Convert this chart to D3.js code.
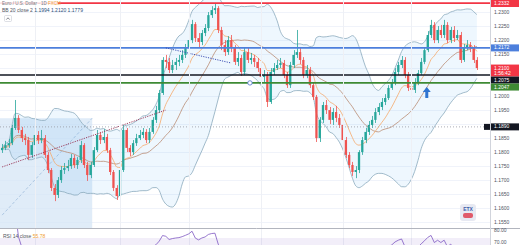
<!DOCTYPE html>
<html>
<head>
<meta charset="utf-8">
<script src="https://cdn.jsdelivr.net/npm/d3@7"></script>
<style>
  body { margin: 0; background: #fff; }
  svg { display: block; font-family: "Liberation Sans", Arial, sans-serif; }
</style>
</head>
<body>
<div id="chart"></div>
<script>
// OHLC (daily candles)
const open = [1.1807,1.1815,1.1825,1.1832,1.1886,1.1922,1.1879,1.1850,1.1843,1.1790,
  1.1825,1.1861,1.1843,1.1850,1.1790,1.1736,1.1672,1.1647,1.1700,1.1736,
  1.1743,1.1750,1.1779,1.1754,1.1772,1.1825,1.1754,1.1718,1.1754,1.1807,
  1.1861,1.1843,1.1854,1.1807,1.1729,1.1672,1.1643,1.1736,1.1879,1.1815,
  1.1800,1.1832,1.1850,1.1861,1.1872,1.1843,1.1872,1.1915,1.1950,1.2011,
  1.2129,1.2122,1.2093,1.2111,1.2122,1.2129,1.2147,1.2172,1.2200,1.2257,
  1.2207,1.2193,1.2225,1.2243,1.2289,1.2307,1.2314,1.2236,1.2182,1.2157,
  1.2200,1.2172,1.2122,1.2136,1.2086,1.2157,1.2129,1.2136,1.2122,1.2100,
  1.2068,1.2075,1.1979,1.2086,1.2100,1.2111,1.2118,1.2075,1.2039,1.2111,
  1.2147,1.2157,1.2129,1.2075,1.2093,1.2039,1.1997,1.1850,1.1915,1.1968,
  1.1950,1.1915,1.1943,1.1922,1.1897,1.1843,1.1790,1.1754,1.1729,1.1736,
  1.1800,1.1843,1.1872,1.1897,1.1915,1.1943,1.1961,1.1979,1.1993,1.2029,
  1.2047,1.2086,1.2111,1.2129,1.2075,1.2029,1.2022,1.2050,1.2082,1.2122,
  1.2164,1.2218,1.2254,1.2200,1.2236,1.2218,1.2254,1.2200,1.2236,1.2207,
  1.2218,1.2129,1.2172,1.2182,1.2172,1.2129];
const high = [1.1829,1.1840,1.1847,1.1897,1.1986,1.1932,1.1890,1.1865,1.1854,1.1836,
  1.1886,1.1875,1.1879,1.1861,1.1800,1.1743,1.1686,1.1711,1.1750,1.1761,
  1.1772,1.1793,1.1790,1.1782,1.1840,1.1832,1.1765,1.1765,1.1818,1.1879,
  1.1872,1.1882,1.1865,1.1815,1.1736,1.1682,1.1747,1.1897,1.1886,1.1825,
  1.1843,1.1865,1.1879,1.1886,1.1882,1.1886,1.1925,1.1965,1.2022,1.2139,
  1.2147,1.2136,1.2129,1.2136,1.2147,1.2164,1.2186,1.2214,1.2272,1.2264,
  1.2225,1.2236,1.2257,1.2300,1.2321,1.2329,1.2321,1.2247,1.2200,1.2214,
  1.2218,1.2182,1.2157,1.2147,1.2172,1.2172,1.2154,1.2147,1.2136,1.2114,
  1.2093,1.2086,1.2100,1.2118,1.2129,1.2136,1.2129,1.2086,1.2122,1.2164,
  1.2236,1.2172,1.2139,1.2111,1.2104,1.2050,1.2004,1.1925,1.1979,1.1986,
  1.1961,1.1957,1.1965,1.1936,1.1907,1.1854,1.1800,1.1765,1.1750,1.1807,
  1.1854,1.1886,1.1911,1.1929,1.1957,1.1975,1.1993,1.2007,1.2039,1.2061,
  1.2100,1.2122,1.2143,1.2139,1.2086,1.2043,1.2064,1.2093,1.2136,1.2175,
  1.2232,1.2272,1.2264,1.2250,1.2254,1.2272,1.2264,1.2247,1.2250,1.2236,
  1.2229,1.2186,1.2200,1.2193,1.2182,1.2139];
const low = [1.1797,1.1807,1.1815,1.1825,1.1879,1.1868,1.1836,1.1825,1.1772,1.1779,
  1.1818,1.1829,1.1832,1.1779,1.1725,1.1661,1.1625,1.1636,1.1690,1.1722,
  1.1732,1.1740,1.1743,1.1740,1.1761,1.1743,1.1697,1.1707,1.1747,1.1800,
  1.1829,1.1832,1.1797,1.1718,1.1661,1.1629,1.1636,1.1729,1.1800,1.1786,
  1.1790,1.1822,1.1843,1.1850,1.1832,1.1832,1.1865,1.1904,1.1940,1.2004,
  1.2100,1.2082,1.2082,1.2093,1.2107,1.2118,1.2136,1.2157,1.2189,1.2193,
  1.2175,1.2182,1.2214,1.2232,1.2279,1.2293,1.2225,1.2164,1.2143,1.2147,
  1.2157,1.2111,1.2107,1.2072,1.2075,1.2118,1.2114,1.2104,1.2086,1.2057,
  1.2050,1.1961,1.1972,1.2075,1.2093,1.2100,1.2064,1.2029,1.2029,1.2100,
  1.2136,1.2114,1.2064,1.2064,1.2029,1.1986,1.1836,1.1836,1.1904,1.1936,
  1.1900,1.1897,1.1907,1.1886,1.1832,1.1779,1.1743,1.1715,1.1707,1.1725,
  1.1790,1.1832,1.1861,1.1886,1.1904,1.1932,1.1950,1.1968,1.1986,1.2022,
  1.2039,1.2075,1.2100,1.2064,1.2018,1.2004,1.2011,1.2039,1.2075,1.2114,
  1.2157,1.2207,1.2189,1.2189,1.2207,1.2207,1.2189,1.2189,1.2193,1.2200,
  1.2118,1.2122,1.2164,1.2157,1.2118,1.2093];
const close = [1.1815,1.1825,1.1832,1.1886,1.1922,1.1879,1.1850,1.1843,1.1790,1.1825,
  1.1861,1.1843,1.1850,1.1790,1.1736,1.1672,1.1647,1.1700,1.1736,1.1743,
  1.1750,1.1779,1.1754,1.1772,1.1825,1.1754,1.1718,1.1754,1.1807,1.1861,
  1.1843,1.1854,1.1807,1.1729,1.1672,1.1643,1.1736,1.1879,1.1815,1.1800,
  1.1832,1.1850,1.1861,1.1872,1.1843,1.1872,1.1915,1.1950,1.2011,1.2129,
  1.2122,1.2093,1.2111,1.2122,1.2129,1.2147,1.2172,1.2200,1.2257,1.2207,
  1.2193,1.2225,1.2243,1.2289,1.2307,1.2314,1.2236,1.2182,1.2157,1.2200,
  1.2172,1.2122,1.2136,1.2086,1.2157,1.2129,1.2136,1.2122,1.2100,1.2068,
  1.2075,1.1979,1.2086,1.2100,1.2111,1.2118,1.2075,1.2039,1.2111,1.2147,
  1.2157,1.2129,1.2075,1.2093,1.2039,1.1997,1.1850,1.1915,1.1968,1.1950,
  1.1915,1.1943,1.1922,1.1897,1.1843,1.1790,1.1754,1.1729,1.1736,1.1800,
  1.1843,1.1872,1.1897,1.1915,1.1943,1.1961,1.1979,1.1993,1.2029,1.2047,
  1.2086,1.2111,1.2129,1.2075,1.2029,1.2022,1.2050,1.2082,1.2122,1.2164,
  1.2218,1.2254,1.2200,1.2236,1.2218,1.2254,1.2200,1.2236,1.2207,1.2218,
  1.2129,1.2172,1.2182,1.2172,1.2129,1.2100];

// price axis ticks
const priceTicks = [1.2300,1.2250,1.2200,1.2150,1.2100,1.2050,1.2000,1.1950,1.1900,
  1.1850,1.1800,1.1750,1.1700,1.1650,1.1600,1.1550];
// horizontal levels drawn on the chart
const levelPrices = [1.2332, 1.2172, 1.2075, 1.2047];
const levelColors = ["#f23645", "#4d7fdc", "#131722", "#3e8a34"];
const dottedLevel = 1.1890;
// drawings: [candle index, price]
const trendRed = [[0, 1.1747], [50, 1.1950]];
const trendBlue = [[50, 1.2172], [70, 1.2118]];
const boxDiag = [[0, 1.1575], [27.5, 1.1921]];
const boxRange = [[-1, 27.5], [1.1921, 1.1529]];
const markerPt = [75.7, 1.2047];
const arrowPt = [129.7, 1.2032];
const vGridIdx = [10, 36, 57, 79, 104, 125];

const W = 520, H = 245, plotR = 490, priceB = 228;
const n = close.length;

const svg = d3.select("#chart").append("svg")
  .attr("width", W).attr("height", H);

const x = d3.scaleBand().domain(d3.range(n)).range([0, 479]).padding(0.3);
const cx = i => x(i) + x.bandwidth() / 2;
const xi = d3.scaleLinear().domain([0, n - 1]).range([cx(0), cx(n - 1)]);
const y = d3.scaleLinear().domain([1.1529, 1.2343]).range([priceB, 0]);

// indicators
const basis = [], upper = [], lower = [];
for (let i = 0; i < n; i++) {
  const w = close.slice(Math.max(0, i - 19), i + 1);
  const m = d3.mean(w);
  const sd = Math.sqrt(d3.mean(w, v => (v - m) ** 2));
  basis.push(m); upper.push(m + 2 * sd); lower.push(m - 2 * sd);
}
const ema = [];
close.forEach((c, i) => ema.push(i ? ema[i - 1] + (c - ema[i - 1]) * 2 / 11 : c));
const rsi = [];
let ag = 0, al = 0;
for (let i = 1; i < n; i++) {
  const d = close[i] - close[i - 1];
  const g = Math.max(d, 0), l = Math.max(-d, 0);
  if (i <= 14) { ag += g / 14; al += l / 14; }
  else { ag = (ag * 13 + g) / 14; al = (al * 13 + l) / 14; }
  rsi.push([i, al === 0 ? 100 : 100 - 100 / (1 + ag / al)]);
}

// clips
svg.append("clipPath").attr("id", "pc").append("rect")
  .attr("x", 0).attr("y", 0).attr("width", plotR).attr("height", priceB);
svg.append("clipPath").attr("id", "rc").append("rect")
  .attr("x", 0).attr("y", priceB + 1).attr("width", plotR).attr("height", H - priceB);

const plot = svg.append("g").attr("clip-path", "url(#pc)");

// grid
plot.selectAll(".hg").data(priceTicks).join("line")
  .attr("x1", 0).attr("x2", plotR)
  .attr("y1", d => Math.round(y(d)) + 0.5).attr("y2", d => Math.round(y(d)) + 0.5)
  .attr("stroke", "#f0f3fa");
svg.selectAll(".vg").data(vGridIdx).join("line")
  .attr("x1", d => Math.round(cx(d)) + 0.5).attr("x2", d => Math.round(cx(d)) + 0.5)
  .attr("y1", 0).attr("y2", H)
  .attr("stroke", "#eef0f5");

// blue range box
plot.append("rect")
  .attr("x", xi(boxRange[0][0])).attr("width", xi(boxRange[0][1]) - xi(boxRange[0][0]))
  .attr("y", y(boxRange[1][0])).attr("height", y(boxRange[1][1]) - y(boxRange[1][0]))
  .attr("fill", "#d6e6f5").attr("fill-opacity", 0.75);
plot.append("line")
  .attr("x1", xi(boxDiag[0][0])).attr("y1", y(boxDiag[0][1]))
  .attr("x2", xi(boxDiag[1][0])).attr("y2", y(boxDiag[1][1]))
  .attr("stroke", "#9fbddc").attr("stroke-width", 0.8).attr("stroke-dasharray", "3,2");

// Bollinger bands
plot.append("path")
  .attr("d", d3.area().x((d, i) => cx(i)).y0((d, i) => y(lower[i])).y1(d => y(d))
    .curve(d3.curveMonotoneX)(upper))
  .attr("fill", "#2196f3").attr("fill-opacity", 0.08);
const line = d3.line().x((d, i) => cx(i)).y(d => y(d)).curve(d3.curveMonotoneX);
[upper, lower].forEach(s => plot.append("path").attr("d", line(s))
  .attr("fill", "none").attr("stroke", "#8aa9bd").attr("stroke-width", 0.8));
plot.append("path").attr("d", line(basis))
  .attr("fill", "none").attr("stroke", "#b98b73").attr("stroke-width", 0.8);
plot.append("path").attr("d", line(ema))
  .attr("fill", "none").attr("stroke", "#f5a86a").attr("stroke-width", 0.8);

// candles
const up = i => close[i] >= open[i];
const cg = plot.append("g");
cg.selectAll("line").data(d3.range(n)).join("line")
  .attr("x1", i => Math.round(cx(i)) + 0.5).attr("x2", i => Math.round(cx(i)) + 0.5)
  .attr("y1", i => y(high[i])).attr("y2", i => y(low[i]))
  .attr("stroke", i => up(i) ? "#26a69a" : "#ef5350").attr("stroke-width", 0.8);
cg.selectAll("rect").data(d3.range(n)).join("rect")
  .attr("x", i => x(i)).attr("width", x.bandwidth())
  .attr("y", i => y(Math.max(open[i], close[i])))
  .attr("height", i => Math.max(0.8, Math.abs(y(open[i]) - y(close[i]))))
  .attr("fill", i => up(i) ? "#26a69a" : "#ef5350");

// levels
plot.selectAll(".lv").data(levelPrices).join("line")
  .attr("x1", 0).attr("x2", plotR)
  .attr("y1", d => y(d)).attr("y2", d => y(d))
  .attr("stroke", (d, i) => levelColors[i]).attr("stroke-width", 1.6);
plot.append("line").attr("x1", 0).attr("x2", plotR)
  .attr("y1", y(dottedLevel)).attr("y2", y(dottedLevel))
  .attr("stroke", "#9598a1").attr("stroke-width", 0.8).attr("stroke-dasharray", "1,2");

// drawings
plot.append("line")
  .attr("x1", xi(trendRed[0][0])).attr("y1", y(trendRed[0][1]))
  .attr("x2", xi(trendRed[1][0])).attr("y2", y(trendRed[1][1]))
  .attr("stroke", "#9c3d5e").attr("stroke-width", 1).attr("stroke-dasharray", "1.2,1.2");
plot.append("line")
  .attr("x1", xi(trendBlue[0][0])).attr("y1", y(trendBlue[0][1]))
  .attr("x2", xi(trendBlue[1][0])).attr("y2", y(trendBlue[1][1]))
  .attr("stroke", "#3f51b5").attr("stroke-width", 1).attr("stroke-dasharray", "1.2,1.2");
plot.append("circle").attr("cx", xi(markerPt[0])).attr("cy", y(markerPt[1])).attr("r", 2.2)
  .attr("fill", "#fff").attr("stroke", "#5b7fd2").attr("stroke-width", 0.9);
{
  const ax = xi(arrowPt[0]), ay = y(arrowPt[1]);
  plot.append("path")
    .attr("d", `M${ax},${ay} L${ax + 4},${ay + 5} L${ax + 1.5},${ay + 5} L${ax + 1.5},${ay + 11}
      L${ax - 1.5},${ay + 11} L${ax - 1.5},${ay + 5} L${ax - 4},${ay + 5} Z`)
    .attr("fill", "#2f74d0");
}

// RSI pane
svg.append("line").attr("x1", 0).attr("x2", W).attr("y1", priceB + 0.5).attr("y2", priceB + 0.5)
  .attr("stroke", "#b2b5be");
const yR = d3.scaleLinear().domain([70, 80]).range([238, 229]);
const rg = svg.append("g").attr("clip-path", "url(#rc)");
rg.append("rect").attr("x", 0).attr("width", plotR).attr("y", yR(70)).attr("height", H - yR(70))
  .attr("fill", "#7e57c2").attr("fill-opacity", 0.1);
rg.append("path")
  .attr("d", d3.line().x(d => cx(d[0])).y(d => yR(d[1]))(rsi))
  .attr("fill", "none").attr("stroke", "#7e57c2").attr("stroke-width", 0.8);
svg.append("text").attr("x", 3).attr("y", 238).attr("font-size", 5).attr("fill", "#50535e")
  .text("RSI 14 close ").append("tspan").attr("fill", "#f0a030").text("55.78");

// right axis
svg.append("line").attr("x1", plotR + 0.5).attr("x2", plotR + 0.5).attr("y1", 0).attr("y2", H)
  .attr("stroke", "#d1d4dc");

// level labels (stacked)
const labels = [
  { v: levelPrices[0], c: levelColors[0], t: [levelPrices[0].toFixed(4)] },
  { v: levelPrices[1], c: levelColors[1], t: [levelPrices[1].toFixed(4)] },
  { v: close[n - 1], c: "#f23645", t: [close[n - 1].toFixed(4), "1:56:42"] },
  { v: levelPrices[2], c: levelColors[2], t: [levelPrices[2].toFixed(4)] },
  { v: levelPrices[3], c: levelColors[3], t: [levelPrices[3].toFixed(4)] },
  { v: dottedLevel, c: "#131722", t: [dottedLevel.toFixed(4)] }
];
let prevBottom = -10;
labels.forEach(l => {
  const h = l.t.length * 5 + 2;
  let top = Math.max(y(l.v) - 3.5, prevBottom, 0);
  l.top = top; l.h = h; prevBottom = top + h;
});
const visibleTicks = priceTicks.filter(t => labels.every(l => y(t) < l.top - 2 || y(t) > l.top + l.h + 2));
svg.selectAll(".tk").data(visibleTicks).join("text")
  .attr("x", 494).attr("y", d => y(d) + 1.8)
  .attr("font-size", 5).attr("fill", "#50535e").text(d => d.toFixed(4));
labels.forEach(l => {
  svg.append("rect").attr("x", plotR + 1).attr("y", l.top).attr("width", 28).attr("height", l.h)
    .attr("fill", l.c);
  l.t.forEach((s, k) => svg.append("text").attr("x", 494).attr("y", l.top + 5 + k * 5)
    .attr("font-size", 5).attr("fill", "#fff").text(s));
});
svg.append("rect").attr("x", 484).attr("y", y(dottedLevel) - 3).attr("width", 6).attr("height", 6)
  .attr("fill", "#131722");
svg.append("text").attr("x", 494).attr("y", 231.5).attr("font-size", 5).attr("fill", "#50535e").text("80.00");
svg.append("text").attr("x", 494).attr("y", 244).attr("font-size", 5).attr("fill", "#50535e").text("70.00");

// legend
svg.append("rect").attr("x", 0).attr("y", 0).attr("width", 58).attr("height", 5.5).attr("fill", "#fff").attr("fill-opacity", 0.85);
svg.append("text").attr("x", 2).attr("y", 4.5).attr("font-size", 4.5).attr("fill", "#787b86")
  .text("Euro / U.S. Dollar · 1D ").append("tspan").attr("fill", "#f0a030").text("FXCM");
const lg = svg.append("text").attr("x", 2).attr("y", 11.5).attr("font-size", 5).attr("fill", "#50535e");
lg.append("tspan").text("BB 20 close 2 ");
lg.append("tspan").attr("fill", "#2a4f7a").text(" 1.1994  1.2120  1.1779");
svg.append("rect").attr("x", 4.5).attr("y", 15.5).attr("width", 7).attr("height", 6).attr("rx", 1)
  .attr("fill", "#fff").attr("stroke", "#c8cbd3").attr("stroke-width", 0.6);
svg.append("path").attr("d", "M6.3,19.6 L8,17.8 L9.7,19.6").attr("fill", "none")
  .attr("stroke", "#50535e").attr("stroke-width", 0.7);

// small logo bottom right
const logo = svg.append("g").attr("transform", "translate(460,204)");
logo.append("rect").attr("width", 16).attr("height", 17).attr("rx", 3).attr("fill", "#e7e9f2");
logo.append("text").attr("x", 8).attr("y", 7).attr("text-anchor", "middle").attr("font-size", 5)
  .attr("font-weight", "bold").attr("fill", "#3b5ba9").text("ETX");
logo.append("rect").attr("x", 3).attr("y", 9).attr("width", 10).attr("height", 5).attr("rx", 2).attr("fill", "#e05a6a");
</script>
</body>
</html>
